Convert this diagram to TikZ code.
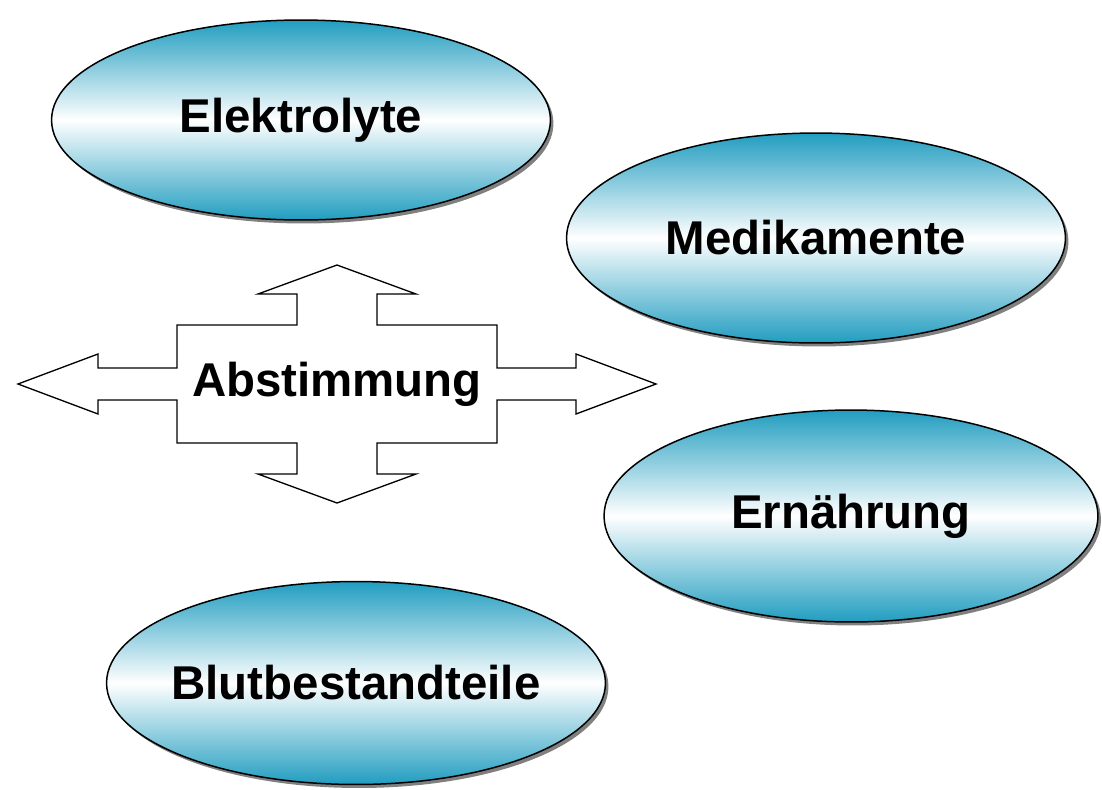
\documentclass[tikz,border=0pt]{standalone}
\usepackage{fontspec}
\setmainfont{Liberation Sans}
\usepackage{tikz}
\usetikzlibrary{shapes.geometric, shadows, positioning}
\definecolor{sea}{RGB}{33,157,192}
\tikzset{
    topic/.style = {ellipse, draw=black, line width=0.85pt, inner sep=0pt,
        top color=sea, bottom color=sea, middle color=white,
        drop shadow={shadow xshift=0.06cm, shadow yshift=-0.07cm, fill=black!50, opacity=1},
        font=\fontsize{27}{32}\selectfont\bfseries},
    crossarrow/.style = {draw=black, fill=white, line width=0.75pt, line join=miter},
    label/.style = {inner sep=0pt, font=\fontsize{27}{32}\selectfont\bfseries},
}

\begin{document}
\begin{tikzpicture}[x=0.02cm, y=-0.02cm]
            \useasboundingbox (0,0) rectangle (1102,789);
            \node (elek) [topic, minimum width=9.98cm, minimum height=4cm] at (301,120) {\makebox[0pt]{Elektrolyte}};
            \node (medi) [topic, minimum width=9.98cm, minimum height=4.2cm] at (816,238) {\makebox[0pt]{Medikamente}};
            \node (ernae) [topic, minimum width=9.88cm, minimum height=4.24cm] at (851,516) {\makebox[0pt]{Ernährung}};
            \node (blut) [topic, minimum width=9.98cm, minimum height=4.06cm] at (356,683) {\makebox[0pt]{Blutbestandteile}};
            \begin{scope}[shift={(337,384)}]
                \draw [crossarrow] (-319,0) -- (-239,-30) -- (-239,-16) -- (-160,-16) -- (-160,-59)
                    -- (-40,-59) -- (-40,-90) -- (-79,-90) -- (0,-119) -- (79,-90) -- (40,-90) -- (40,-59)
                    -- (160,-59) -- (160,-16) -- (239,-16) -- (239,-30) -- (319,0) -- (239,30) -- (239,16)
                    -- (160,16) -- (160,59) -- (40,59) -- (40,90) -- (79,90) -- (0,119) -- (-79,90)
                    -- (-40,90) -- (-40,59) -- (-160,59) -- (-160,16) -- (-239,16) -- (-239,30) -- cycle;
                \node (abst) [label] at (0,0) {Abstimmung};
            \end{scope}
\end{tikzpicture}
\end{document}
